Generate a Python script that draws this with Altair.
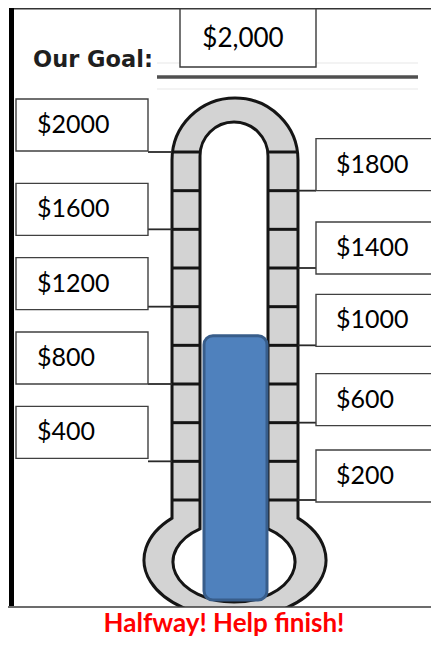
import math
import altair as alt
import pandas as pd

# ---------------- data ----------------
goal_amount = 2000
raised_amount = 1050
tick_values = [2000, 1800, 1600, 1400, 1200, 1000, 800, 600, 400, 200]
tick_labels = ["$2000", "$1800", "$1600", "$1400", "$1200",
               "$1000", "$800", "$600", "$400", "$200"]
tick_sides = ["left", "right", "left", "right", "left",
              "right", "left", "right", "left", "right"]
goal_label = "$2,000"
goal_caption = "Our Goal:"
message = "Halfway! Help finish!"

# ---------------- layout (page pixels) ----------------
MARGIN = 8
RIGHT_EDGE, BOTTOM_EDGE = 431, 640   # keep the page free of overflow
PX_PER_USD = 348 / 1800          # vertical pixels per dollar
ZERO_Y = 500 + 200 * PX_PER_USD  # page y of $0


def usd(py):
    """page y (px) -> value on the dollar scale"""
    return (ZERO_Y - py) / PX_PER_USD


Y_TOP = usd(MARGIN)
Y_BOTTOM = usd(BOTTOM_EDGE)
label_nudge_px = [-1, 0, 6, 6, 3, 1, 0, 3, -3, 2]
BOX_H = 52

xs = alt.Scale(domain=[MARGIN, RIGHT_EDGE], nice=False, zero=False)
ys = alt.Scale(domain=[Y_BOTTOM, Y_TOP], nice=False, zero=False)


def X(f):
    return alt.X(f, type="quantitative", scale=xs, axis=None)


def Y(f):
    return alt.Y(f, type="quantitative", scale=ys, axis=None)


def rects(df, **mark):
    return alt.Chart(df).mark_rect(**mark).encode(
        x=X("x0"), x2=alt.X2("x1"), y=Y("y0"), y2=alt.Y2("y1"))


def rules(df, **mark):
    return alt.Chart(df).mark_rule(**mark).encode(
        x=X("x0"), x2=alt.X2("x1"), y=Y("y"))


def texts(df, **mark):
    return alt.Chart(df).mark_text(**mark).encode(
        x=X("x"), y=Y("y"), text="t:N")


# ---------------- thermometer outline as symbol paths ----------------
def ellipse_segments(cx, cy, rx, ry, t0, t1, n):
    out = []
    dt = (t1 - t0) / n
    k = 4 / 3 * math.tan(dt / 4)
    for i in range(n):
        a, b = t0 + i * dt, t0 + (i + 1) * dt
        p0 = (cx + rx * math.cos(a), cy + ry * math.sin(a))
        d0 = (-rx * math.sin(a), ry * math.cos(a))
        p3 = (cx + rx * math.cos(b), cy + ry * math.sin(b))
        d3 = (-rx * math.sin(b), ry * math.cos(b))
        c1 = (p0[0] + k * d0[0], p0[1] + k * d0[1])
        c2 = (p3[0] - k * d3[0], p3[1] - k * d3[1])
        out.append((c1, c2, p3))
    return out


SYM_CX, SYM_CY, SYM_S = 235, 355, 270


def nrm(p):
    return "%.4f %.4f" % ((p[0] - SYM_CX) / SYM_S, (p[1] - SYM_CY) / SYM_S)


def contour(xl, xr, arch_cy, arch_ry, bulb_cy, bulb_rx, bulb_ry):
    cx = (xl + xr) / 2
    half = (xr - xl) / 2
    tb = math.acos(half / bulb_rx)
    yj = bulb_cy - bulb_ry * math.sin(tb)
    d = "M " + nrm((xl, yj)) + " L " + nrm((xl, arch_cy))
    for c1, c2, p in ellipse_segments(cx, arch_cy, half, arch_ry, math.pi, 2 * math.pi, 2):
        d += " C " + nrm(c1) + " " + nrm(c2) + " " + nrm(p)
    d += " L " + nrm((xr, yj))
    for c1, c2, p in ellipse_segments(cx, bulb_cy, bulb_rx, bulb_ry, -tb, math.pi + tb, 4):
        d += " C " + nrm(c1) + " " + nrm(c2) + " " + nrm(p)
    return d + " Z"


outer_path = contour(172, 298, 160, 62, 560, 91, 58)
inner_path = contour(200, 268, 156, 34, 562, 61, 40)
sym_df = pd.DataFrame({"x": [SYM_CX], "y": [usd(SYM_CY)]})


def symbol(path, fill):
    return alt.Chart(sym_df).mark_point(
        shape=path, size=(2 * SYM_S) ** 2, filled=True, fill=fill,
        stroke="#151515", strokeWidth=3, opacity=1, fillOpacity=1, strokeOpacity=1
    ).encode(x=X("x"), y=Y("y"))


# ---------------- tables ----------------
frame_bar = pd.DataFrame({"x0": [9], "x1": [14], "y0": [usd(8)], "y1": [usd(606)]})
top_line = pd.DataFrame({"x0": [14], "x1": [RIGHT_EDGE], "y": [usd(8.8)]})
caption_df = pd.DataFrame({"x": [33], "y": [usd(67)], "t": [goal_caption]})
underline_df = pd.DataFrame({"x0": [157], "x1": [418], "y": [usd(77)]})
ghost_df = pd.DataFrame({"x0": [157, 157], "x1": [418, 418], "y": [usd(63), usd(89)]})
goal_box = pd.DataFrame({"x0": [180], "x1": [316], "y0": [usd(67)], "y1": [usd(8.7)]})
goal_text = pd.DataFrame({"x": [243], "y": [usd(39)], "t": [goal_label]})

cell_rows = []
for v in tick_values:
    cell_rows.append({"x0": 172, "x1": 200, "y": v})
    cell_rows.append({"x0": 268, "x1": 298, "y": v})
cells_df = pd.DataFrame(cell_rows)

lead_rows, box_rows, lab_rows = [], [], []
for v, lab, side, nud in zip(tick_values, tick_labels, tick_sides, label_nudge_px):
    bottom = v - nud / PX_PER_USD
    top = bottom + BOX_H / PX_PER_USD
    if side == "left":
        lead_rows.append({"x0": 148, "x1": 172, "y": v})
        box_rows.append({"x0": 16, "x1": 148, "y0": bottom, "y1": top})
        lab_rows.append({"x": 37, "y": (bottom + top) / 2, "t": lab})
    else:
        lead_rows.append({"x0": 298, "x1": 316, "y": v})
        box_rows.append({"x0": 316, "x1": 470, "y0": bottom, "y1": top})
        lab_rows.append({"x": 336, "y": (bottom + top) / 2, "t": lab})
lead_df = pd.DataFrame(lead_rows)
box_df = pd.DataFrame(box_rows)
lab_df = pd.DataFrame(lab_rows)

bar_df = pd.DataFrame({"x0": [204], "x1": [267], "y0": [usd(600)], "y1": [raised_amount]})
msg_box = pd.DataFrame({"x0": [5], "x1": [470], "y0": [usd(720)], "y1": [usd(607)]})
msg_df = pd.DataFrame({"x": [224], "y": [usd(632)], "t": [message]})

LABEL_FONT = "Lato"

layers = [
    rects(frame_bar, color="#000000"),
    rules(top_line, color="#333333", strokeWidth=1.5),
    rules(ghost_df, color="#e8e8e8", strokeWidth=1.2),
    texts(caption_df, align="left", baseline="alphabetic", font="DejaVu Sans",
          fontWeight="bold", fontSize=22.5, color="#1f1f1f"),
    rules(underline_df, color="#505050", strokeWidth=3.5),
    rects(goal_box, fill="#ffffff", stroke="#3a3a3a", strokeWidth=1.4),
    texts(goal_text, align="center", baseline="middle", font=LABEL_FONT,
          fontSize=26, color="#000000"),
    symbol(outer_path, "#d3d3d3"),
    symbol(inner_path, "#ffffff"),
    rules(cells_df, color="#151515", strokeWidth=3),
    rules(lead_df, color="#2a2a2a", strokeWidth=1.8),
    rects(box_df, fill="#ffffff", stroke="#404040", strokeWidth=1.4, clip=True),
    texts(lab_df, align="left", baseline="middle", font=LABEL_FONT,
          fontSize=25, color="#000000"),
    rects(bar_df, fill="#4f81bd", stroke="#385d8a", strokeWidth=3, cornerRadius=9),
    rects(msg_box, fill="#ffffff", stroke="#3c3c3c", strokeWidth=1.4, clip=True),
    texts(msg_df, align="center", baseline="alphabetic", font=LABEL_FONT,
          fontWeight="bold", fontSize=26, color="#ff0000"),
]

chart = alt.layer(*layers).properties(
    width=RIGHT_EDGE - MARGIN,
    height=BOTTOM_EDGE - MARGIN,
    padding=0,
    autosize=alt.AutoSizeParams(type="none"),
).configure_view(stroke=None)

chart.save("out.html", embed_options={"renderer": "svg", "actions": False})
